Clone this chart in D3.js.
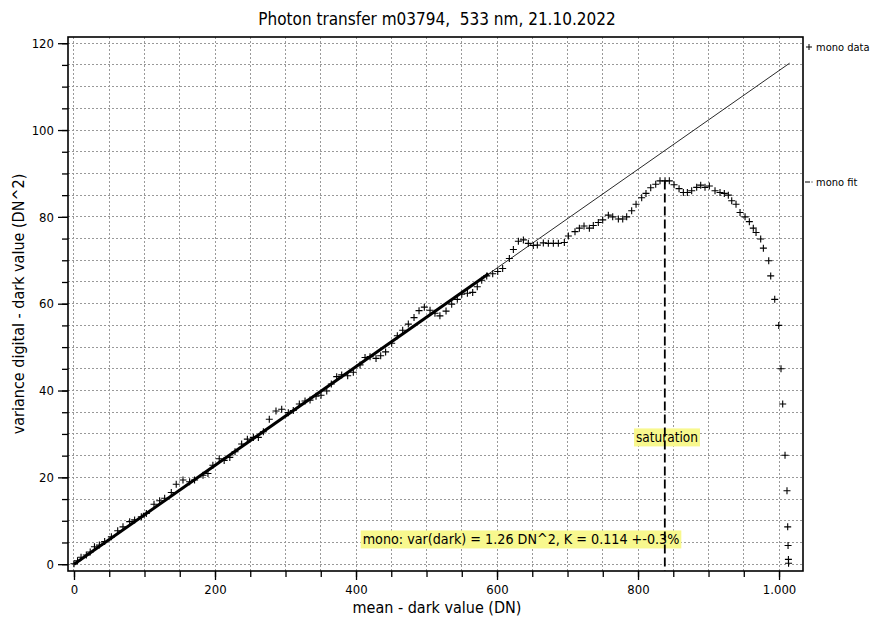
<!DOCTYPE html>
<html><head><meta charset="utf-8">
<script src="https://cdn.jsdelivr.net/npm/d3@7/dist/d3.min.js"></script>
<style>
html,body{margin:0;padding:0;background:#fff;}
svg{display:block;}
text{font-family:"DejaVu Sans Condensed","DejaVu Sans",sans-serif;font-stretch:condensed;fill:#000;white-space:pre;}
</style></head>
<body>
<svg id="chart" width="874" height="621"></svg>
<script>
const titleText = "Photon transfer m03794,  533 nm, 21.10.2022";
const xLabel = "mean - dark value (DN)";
const yLabel = "variance digital - dark value (DN^2)";
const xTickValues = [0, 200, 400, 600, 800, 1000];
const yTickValues = [0, 20, 40, 60, 80, 100, 120];

const meanDN = [0,5,10,17.5,23,29,36,43.5,53,62,69.5,79,86,95.5,102.6,113.5,121.5,128.6,138,145,154.6,164,171,183,190,197,206,213,221,228.4,237.8,245.9,254.4,261.5,268.6,277,286.5,294.6,304,311,319.6,327.7,334.8,343.3,350.4,358.5,365,372.6,379.7,388.2,396.2,405.7,412.8,419.9,428.4,435,442,450.6,458.6,466.2,474.2,482.3,489.4,496.9,505,512,519,527.7,535.7,543.7,550,558,565.5,572,578.3,585.4,593.9,601,608,617.5,623.2,630.3,637.4,644.4,651.5,657.2,665.7,672.8,679.9,687,695.5,701.2,710.6,716.8,723.4,731,736.6,743.7,749.9,757.9,764.1,772.1,778.3,783.9,791,797.2,805.2,811.3,818,825.1,831.2,838.3,844.4,851.1,858.2,864.3,870,876.1,883.2,888.9,895,901.2,909.2,916.3,922.4,928.1,932.9,939,944.7,951.8,957.9,963.5,967.4,974,977.8,985.4,988.2,993.9,999.6,1002.8,1005.2,1008.5,1011.3,1012.3,1012.8,1013.3,1013.5];
const varianceDN2 = [0.1,0.8,1.6,2.1,2.8,4.0,4.4,5.2,6.3,7.7,8.6,9.8,10.2,10.9,11.7,13.8,14.6,15.2,16.5,18.4,19.4,19.0,19.4,20.5,20.9,22.8,24.3,23.9,24.6,25.9,27.7,28.8,29.2,29.2,30.5,33.4,35.3,35.7,34.9,35.4,36.9,37.6,37.8,38.7,38.9,39.9,41.5,43.2,43.6,43.4,44.2,45.9,47.6,47.8,47.4,48.0,48.9,50.9,52.6,53.9,55.3,56.8,58.4,59.2,58.5,57.8,57.2,58.3,59.9,61.0,62.2,62.4,62.6,63.9,65.4,66.4,66.9,67.4,68.1,70.4,72.5,74.4,74.7,73.9,73.4,73.5,74.0,73.9,73.9,73.9,74.1,75.6,76.6,77.4,77.9,77.4,78.0,78.7,79.3,80.4,80.0,79.5,79.5,80.0,81.4,82.9,84.4,85.4,86.7,87.5,88.3,88.3,88.3,87.4,86.5,85.6,85.6,86.0,86.8,87.3,86.8,87.1,86.0,85.6,85.4,85.0,83.7,82.9,81.0,80.0,78.9,77.4,76.4,74.9,72.8,69.9,66.4,61.0,55.0,45.0,36.9,25.1,16.9,8.6,4.3,1.1,0.2];

const fitLineMean = [0, 1015];
const fitLineVar = [0, 115.4];
const fitUsedMean = [0, 588];
const fitUsedVar = [0, 66.9];
const saturationMean = 838;
const saturationVar = [0, 88.4];
const legendLabels = ["mono data", "mono fit"];
const fitNote = "mono: var(dark) = 1.26 DN^2, K = 0.114 +-0.3%";
const saturationNote = "saturation";

const svg = d3.select("#chart");
const L = 68, R = 803, T = 37, B = 571;
const x = d3.scaleLinear().domain([-8.5, 1034]).range([L, R]);
const y = d3.scaleLinear().domain([-1.57, 121.43]).range([B, T]);
const deFmt = d3.formatLocale({decimal: ",", thousands: ".", grouping: [3], currency: ["", ""]}).format(",");

// grid
const g = svg.append("g");
g.selectAll(".vg").data(d3.range(0, 1001, 50)).enter().append("line")
  .attr("x1", d => x(d)).attr("x2", d => x(d)).attr("y1", T).attr("y2", B)
  .attr("stroke", "#999").attr("stroke-width", 1).attr("stroke-dasharray", "2,2").attr("shape-rendering","crispEdges");
g.selectAll(".hg").data(d3.range(0, 121, 5)).enter().append("line")
  .attr("y1", d => y(d)).attr("y2", d => y(d)).attr("x1", L).attr("x2", R)
  .attr("stroke", "#999").attr("stroke-width", 1).attr("stroke-dasharray", "2,2").attr("shape-rendering","crispEdges");

// axes
const xAxisMinor = d3.axisBottom(x).tickValues(d3.range(0, 1001, 50)).tickSize(6).tickFormat("");
const xAxisMajor = d3.axisBottom(x).tickValues(xTickValues).tickSize(9).tickPadding(5).tickFormat(d => deFmt(d));
const yAxisMinor = d3.axisLeft(y).tickValues(d3.range(0, 121, 5)).tickSize(6).tickFormat("");
const yAxisMajor = d3.axisLeft(y).tickValues(yTickValues).tickSize(10).tickPadding(4);
[xAxisMinor, xAxisMajor].forEach(a => {
  const ga = svg.append("g").attr("transform", `translate(0,${B})`).call(a);
  ga.select(".domain").remove();
  ga.selectAll("line").attr("stroke-width", 1.3);
  ga.selectAll("text").attr("font-size", 13);
});
[yAxisMinor, yAxisMajor].forEach(a => {
  const ga = svg.append("g").attr("transform", `translate(${L},0)`).call(a);
  ga.select(".domain").remove();
  ga.selectAll("line").attr("stroke-width", 1.3);
  ga.selectAll("text").attr("font-size", 13);
});
svg.selectAll(".tick text").attr("font-family", null);

// fit lines
const line = d3.line().x(d => x(d[0])).y(d => y(d[1]));
svg.append("path").datum(fitLineMean.map((m, i) => [m, fitLineVar[i]]))
  .attr("d", line).attr("fill", "none").attr("stroke", "#111").attr("stroke-width", 0.9);
svg.append("path").datum(fitUsedMean.map((m, i) => [m, fitUsedVar[i]]))
  .attr("d", line).attr("fill", "none").attr("stroke", "#000").attr("stroke-width", 3);

// data
const s = 3.5;
svg.append("g").selectAll("path").data(meanDN.map((m, i) => [m, varianceDN2[i]])).enter().append("path")
  .attr("d", d => `M${x(d[0]) - s},${y(d[1])}H${x(d[0]) + s}M${x(d[0])},${y(d[1]) - s}V${y(d[1]) + s}`)
  .attr("stroke", "#000").attr("stroke-width", 1.1).attr("fill", "none");

// annotation boxes
function note(txt, cx, cy, fs) {
  const t = svg.append("text").attr("x", cx).attr("y", cy).attr("text-anchor", "middle")
    .attr("dominant-baseline", "central").attr("font-size", fs).text(txt);
  const bb = t.node().getBBox();
  svg.insert("rect", () => t.node()).attr("x", bb.x - 2).attr("y", bb.y - 1)
    .attr("width", bb.width + 4).attr("height", bb.height + 2).attr("fill", "#f8f88e");
}
note(fitNote, 521, y(5.7), 14.2);
note(saturationNote, 667, y(29.2), 13.5);

// saturation line
svg.append("line").attr("x1", x(saturationMean)).attr("x2", x(saturationMean))
  .attr("y1", y(saturationVar[1])).attr("y2", B)
  .attr("stroke", "#000").attr("stroke-width", 1.8).attr("stroke-dasharray", "9,4");

// frame
svg.append("rect").attr("x", L).attr("y", T).attr("width", R - L).attr("height", B - T)
  .attr("fill", "none").attr("stroke", "#000").attr("stroke-width", 1.6);

// title & labels
svg.append("text").attr("x", 437).attr("y", 25).attr("text-anchor", "middle").attr("font-size", 17).text(titleText);
svg.append("text").attr("x", 437).attr("y", 613).attr("text-anchor", "middle").attr("font-size", 16).text(xLabel);
svg.append("text").attr("transform", `translate(24,${(T + B) / 2}) rotate(-90)`).attr("text-anchor", "middle").attr("font-size", 16).text(yLabel);

// legend
const lg = svg.append("g");
lg.append("path").attr("d", `M806,47H812M809,44V50`).attr("stroke", "#000").attr("stroke-width", 1);
lg.append("text").attr("x", 816).attr("y", 51).attr("font-size", 11).text(legendLabels[0]);
lg.append("path").attr("d", `M805,182H810M811.5,182H812.5`).attr("stroke", "#000").attr("stroke-width", 1);
lg.append("text").attr("x", 816).attr("y", 186).attr("font-size", 11).text(legendLabels[1]);
</script>
</body></html>
